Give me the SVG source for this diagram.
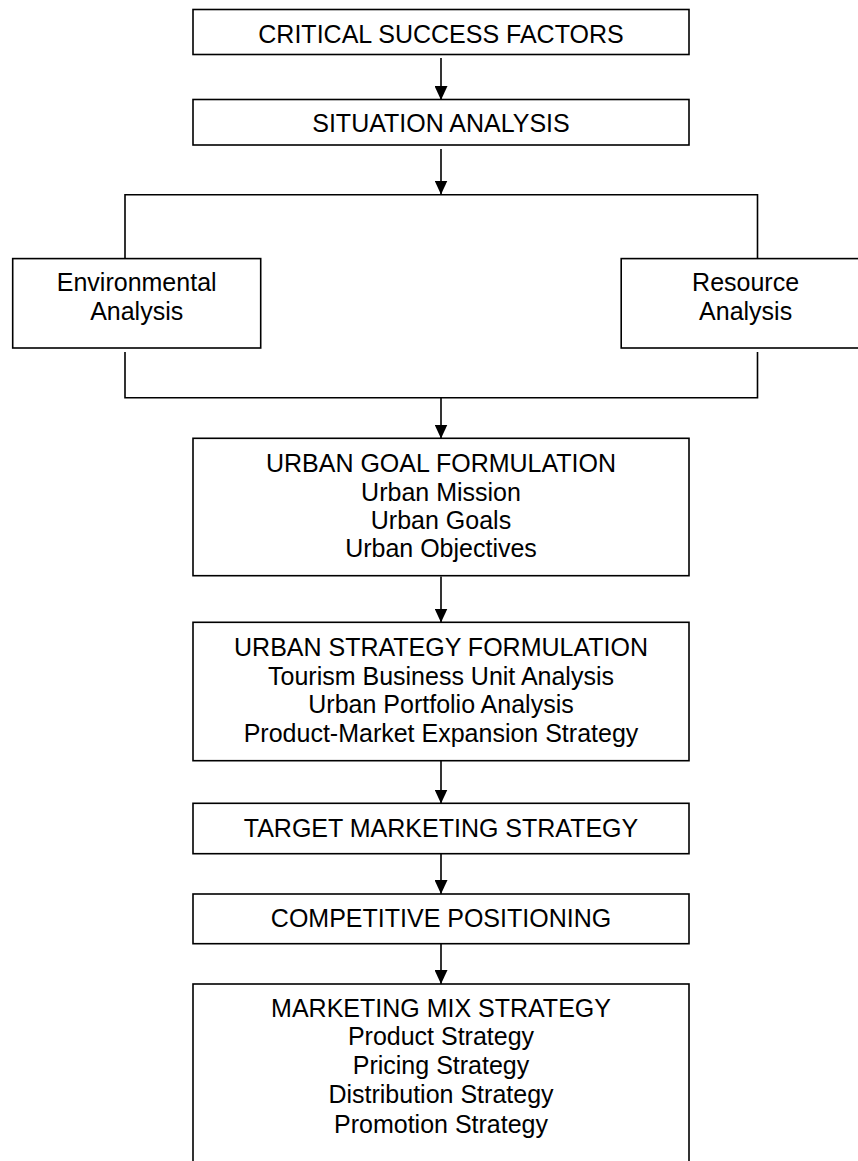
<svg xmlns="http://www.w3.org/2000/svg" width="858" height="1161" viewBox="0 0 858 1161">
<style>
.box{fill:#fff;stroke:#000;stroke-width:1.6}
.ln{fill:none;stroke:#000;stroke-width:1.6}
text{font-family:"Liberation Sans",Arial,sans-serif;font-size:25px;fill:#000;text-anchor:middle}
</style>
<defs>
<marker id="ah" viewBox="0 0 14 13" refX="14" refY="6.5" markerWidth="14" markerHeight="13" markerUnits="userSpaceOnUse" orient="auto">
<path d="M0,0 L14,6.5 L0,13 z" fill="#000"/>
</marker>
</defs>
<rect width="858" height="1161" fill="#fff"/>
<g id="connectors">
<line class="ln" x1="441" y1="58" x2="441" y2="100" marker-end="url(#ah)"/>
<line class="ln" x1="441" y1="149" x2="441" y2="194.5" marker-end="url(#ah)"/>
<polyline class="ln" points="125,262 125,194.7 757.5,194.7 757.5,262"/>
<polyline class="ln" points="125,352 125,397.7 757.5,397.7 757.5,352"/>
<line class="ln" x1="441" y1="397.7" x2="441" y2="438.5" marker-end="url(#ah)"/>
<line class="ln" x1="441" y1="576.5" x2="441" y2="622.5" marker-end="url(#ah)"/>
<line class="ln" x1="441" y1="758.5" x2="441" y2="803.5" marker-end="url(#ah)"/>
<line class="ln" x1="441" y1="848" x2="441" y2="894" marker-end="url(#ah)"/>
<line class="ln" x1="441" y1="939" x2="441" y2="984" marker-end="url(#ah)"/>
</g>
<g id="csf">
<rect class="box" x="193" y="9.5" width="496" height="45"/>
<text x="441" y="43.3">CRITICAL SUCCESS FACTORS</text>
</g>
<g id="situation">
<rect class="box" x="193" y="99.5" width="496" height="45.5"/>
<text x="441" y="131.7">SITUATION ANALYSIS</text>
</g>
<g id="environmental">
<rect class="box" x="12.7" y="258.6" width="248" height="89.4"/>
<text x="136.7" y="290.8">Environmental</text>
<text x="136.7" y="319.7">Analysis</text>
</g>
<g id="resource">
<rect class="box" x="621.2" y="258.6" width="250" height="89.4"/>
<text x="745.6" y="290.8">Resource</text>
<text x="745.6" y="319.7">Analysis</text>
</g>
<g id="goal">
<rect class="box" x="193" y="438.3" width="496" height="137.4"/>
<text x="441" y="471.7">URBAN GOAL FORMULATION</text>
<text x="441" y="500.7">Urban Mission</text>
<text x="441" y="529">Urban Goals</text>
<text x="441" y="557.3">Urban Objectives</text>
</g>
<g id="strategy">
<rect class="box" x="193" y="622.3" width="496" height="138.4"/>
<text x="441" y="655.7">URBAN STRATEGY FORMULATION</text>
<text x="441" y="685">Tourism Business Unit Analysis</text>
<text x="441" y="713.3">Urban Portfolio Analysis</text>
<text x="441" y="741.7">Product-Market Expansion Strategy</text>
</g>
<g id="target">
<rect class="box" x="193" y="803.3" width="496" height="50.4"/>
<text x="441" y="836.7">TARGET MARKETING STRATEGY</text>
</g>
<g id="competitive">
<rect class="box" x="193" y="894" width="496" height="49.7"/>
<text x="441" y="926.7">COMPETITIVE POSITIONING</text>
</g>
<g id="mix">
<rect class="box" x="193" y="984" width="496" height="200"/>
<text x="441" y="1016.7">MARKETING MIX STRATEGY</text>
<text x="441" y="1045">Product Strategy</text>
<text x="441" y="1074.3">Pricing Strategy</text>
<text x="441" y="1103.3">Distribution Strategy</text>
<text x="441" y="1132.7">Promotion Strategy</text>
</g>
</svg>
